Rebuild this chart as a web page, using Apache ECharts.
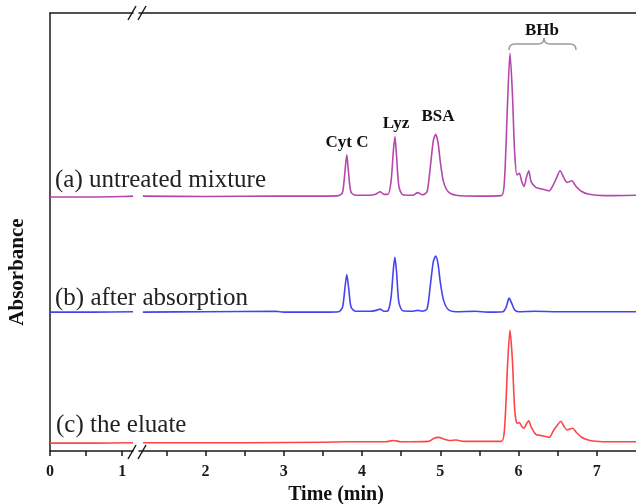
<!DOCTYPE html>
<html>
<head>
<meta charset="utf-8">
<script src="https://cdn.jsdelivr.net/npm/echarts@6.0.0/dist/echarts.min.js"></script>
<style>
  html, body { margin: 0; padding: 0; background: #fff; }
  #chart { width: 636px; height: 504px; }
</style>
</head>
<body>
<div id="chart"></div>
<script>
// time (min) before the axis break
var leftA = [[0, 58.0], [0.6, 58.0], [1.0, 58.1], [1.15, 58.2]];
var leftB = [[0, 31.7], [0.6, 31.7], [1.15, 31.8]];
var leftC = [[0, 1.8], [0.6, 1.8], [1.15, 1.9]];

// (a) untreated mixture
var traceA = [[1.2, 58.2], [2.0, 58.1], [2.9, 58.2], [3.5, 58.2], [3.70, 58.3], [3.75, 59.0], [3.78, 63.5],
  [3.805, 67.6], [3.83, 63.0], [3.86, 59.0], [3.92, 58.4], [4.1, 58.4], [4.18, 58.7], [4.23, 59.2],
  [4.28, 58.6], [4.33, 58.6], [4.37, 61.5], [4.40, 68.5], [4.42, 71.8], [4.44, 67.5], [4.47, 60.5],
  [4.52, 58.5], [4.65, 58.4], [4.71, 59.0], [4.77, 58.5], [4.83, 59.2], [4.87, 64.5], [4.91, 70.8],
  [4.94, 72.3], [4.97, 70.5], [5.00, 66.0], [5.04, 61.5], [5.10, 59.2], [5.20, 58.4], [5.5, 58.2],
  [5.78, 58.3], [5.82, 62.0], [5.86, 80.0], [5.89, 90.8], [5.92, 82.0], [5.95, 68.0], [5.98, 63.0],
  [6.01, 63.4], [6.04, 61.5], [6.07, 60.4], [6.10, 62.5], [6.13, 64.0], [6.16, 61.5], [6.22, 60.2],
  [6.30, 59.8], [6.39, 59.4], [6.45, 61.0], [6.49, 62.6], [6.53, 64.0], [6.58, 62.3], [6.62, 61.3],
  [6.68, 61.7], [6.73, 60.5], [6.80, 59.3], [6.90, 58.6], [7.1, 58.3], [7.5, 58.4]];

// (b) after absorption
var traceB = [[1.2, 31.7], [2.0, 31.8], [2.9, 31.9], [3.0, 31.7], [3.5, 31.7], [3.70, 31.8], [3.75, 32.8],
  [3.78, 37.0], [3.805, 40.3], [3.83, 37.0], [3.86, 32.8], [3.92, 31.9], [4.1, 31.9], [4.18, 32.1],
  [4.23, 32.4], [4.28, 31.9], [4.33, 32.0], [4.37, 35.0], [4.40, 41.5], [4.42, 44.2], [4.44, 41.0],
  [4.47, 34.0], [4.52, 32.0], [4.65, 31.9], [4.71, 32.1], [4.77, 31.9], [4.83, 32.4], [4.87, 37.5],
  [4.91, 43.2], [4.94, 44.5], [4.97, 42.8], [5.00, 38.5], [5.04, 34.5], [5.10, 32.3], [5.20, 31.8],
  [5.45, 31.9], [5.6, 31.7], [5.80, 31.8], [5.84, 32.8], [5.88, 34.9], [5.91, 33.8], [5.95, 32.2],
  [6.0, 31.8], [6.2, 31.9], [6.5, 31.8], [7.0, 31.8], [7.5, 31.8]];

// (c) the eluate
var traceC = [[1.2, 1.9], [2.5, 1.9], [3.5, 2.0], [3.8, 2.1], [4.3, 2.1], [4.4, 2.4], [4.5, 2.1],
  [4.85, 2.2], [4.92, 2.9], [4.98, 3.1], [5.05, 2.7], [5.12, 2.4], [5.2, 2.5], [5.3, 2.2], [5.78, 2.2],
  [5.82, 5.0], [5.86, 20.0], [5.89, 27.6], [5.92, 21.0], [5.95, 9.5], [5.98, 6.3], [6.01, 6.5],
  [6.04, 5.6], [6.07, 5.2], [6.10, 6.2], [6.13, 6.9], [6.16, 5.5], [6.22, 3.8], [6.30, 3.5],
  [6.39, 3.1], [6.45, 4.8], [6.50, 6.0], [6.54, 6.8], [6.58, 5.6], [6.62, 4.8], [6.69, 5.2],
  [6.74, 4.2], [6.80, 3.2], [6.86, 2.7], [6.95, 2.3], [7.2, 2.1], [7.5, 2.1]];

var leftTicks = [0, 0.5, 1];
var leftLabels = [0, 1];
var rightTicks = [1.5, 2, 2.5, 3, 3.5, 4, 4.5, 5, 5.5, 6, 6.5, 7];
var rightLabels = [2, 3, 4, 5, 6, 7];

var colors = ['#b447ae', '#4444f2', '#ff4545'];
var axisColor = '#1a1a1a';
var serif = '"Liberation Serif", "Times New Roman", serif';

var chart = echarts.init(document.getElementById('chart'));

function bottomAxis(idx, min, max, ticks, labels) {
  return {
    type: 'value', gridIndex: idx, position: 'bottom', min: min, max: max,
    axisLine: { show: true, lineStyle: { color: axisColor, width: 1.5 } },
    axisTick: { show: true, length: 5, customValues: ticks, lineStyle: { color: axisColor, width: 1.5 } },
    axisLabel: { customValues: labels, color: axisColor, fontFamily: serif, fontWeight: 'bold', fontSize: 16, margin: 13 },
    splitLine: { show: false }
  };
}
function topAxis(idx, min, max) {
  return {
    type: 'value', gridIndex: idx, position: 'top', min: min, max: max,
    axisLine: { show: true, lineStyle: { color: axisColor, width: 1.5 } },
    axisTick: { show: false }, axisLabel: { show: false }, splitLine: { show: false }
  };
}
function line(name, xi, data, color) {
  return {
    name: name, type: 'line', xAxisIndex: xi, yAxisIndex: xi < 2 ? 0 : 1,
    data: data, showSymbol: false, smooth: 0.25,
    lineStyle: { color: color, width: 1.6 }, silent: true
  };
}

var slash = { stroke: axisColor, lineWidth: 1.5 };
var brace = { fill: 'none', stroke: '#999', lineWidth: 1.5 };
var peakFont = 'bold 17px ' + serif;
var traceFont = '25px ' + serif;
var option = {
  animation: false,
  grid: [
    { left: 50, top: 13, width: 83, bottom: 53 },
    { left: 139, top: 13, width: 498, bottom: 53 }
  ],
  xAxis: [
    bottomAxis(0, 0, 1.15, leftTicks, leftLabels),
    topAxis(0, 0, 1.15),
    bottomAxis(1, 1.15, 7.5, rightTicks, rightLabels),
    topAxis(1, 1.15, 7.5)
  ],
  yAxis: [
    { type: 'value', gridIndex: 0, min: 0, max: 100,
      axisLine: { show: true, lineStyle: { color: axisColor, width: 1.5 } },
      axisTick: { show: false }, axisLabel: { show: false }, splitLine: { show: false } },
    { type: 'value', gridIndex: 1, min: 0, max: 100, show: false }
  ],
  series: [
    line('a-left', 0, leftA, colors[0]),
    line('b-left', 0, leftB, colors[1]),
    line('c-left', 0, leftC, colors[2]),
    line('a', 2, traceA, colors[0]),
    line('b', 2, traceB, colors[1]),
    line('c', 2, traceC, colors[2])
  ],
  graphic: [
    { type: 'line', shape: { x1: 128, y1: 459, x2: 136, y2: 445 }, style: slash },
    { type: 'line', shape: { x1: 138, y1: 459, x2: 146, y2: 445 }, style: slash },
    { type: 'line', shape: { x1: 128, y1: 20, x2: 136, y2: 6 }, style: slash },
    { type: 'line', shape: { x1: 138, y1: 20, x2: 146, y2: 6 }, style: slash },
    { type: 'bezierCurve', shape: { x1: 509, y1: 50, cpx1: 509, cpy1: 44, x2: 515, y2: 44 }, style: brace },
    { type: 'line', shape: { x1: 515, y1: 44, x2: 538, y2: 44 }, style: brace },
    { type: 'bezierCurve', shape: { x1: 538, y1: 44, cpx1: 544, cpy1: 44, x2: 544, y2: 38 }, style: brace },
    { type: 'bezierCurve', shape: { x1: 544, y1: 38, cpx1: 544, cpy1: 44, x2: 550, y2: 44 }, style: brace },
    { type: 'line', shape: { x1: 550, y1: 44, x2: 570, y2: 44 }, style: brace },
    { type: 'bezierCurve', shape: { x1: 570, y1: 44, cpx1: 576, cpy1: 44, x2: 576, y2: 50 }, style: brace },
    { type: 'text', x: 542, y: 31, style: { text: 'BHb', fill: '#111', font: peakFont, align: 'center', verticalAlign: 'middle' } },
    { type: 'text', x: 347, y: 143, style: { text: 'Cyt C', fill: '#111', font: peakFont, align: 'center', verticalAlign: 'middle' } },
    { type: 'text', x: 396, y: 124, style: { text: 'Lyz', fill: '#111', font: peakFont, align: 'center', verticalAlign: 'middle' } },
    { type: 'text', x: 438, y: 117, style: { text: 'BSA', fill: '#111', font: peakFont, align: 'center', verticalAlign: 'middle' } },
    { type: 'text', x: 55, y: 180, style: { text: '(a) untreated mixture', fill: '#222', font: traceFont, align: 'left', verticalAlign: 'middle' } },
    { type: 'text', x: 55, y: 298, style: { text: '(b) after absorption', fill: '#222', font: traceFont, align: 'left', verticalAlign: 'middle' } },
    { type: 'text', x: 56, y: 425, style: { text: '(c) the eluate', fill: '#222', font: traceFont, align: 'left', verticalAlign: 'middle' } },
    { type: 'text', x: 336, y: 495, style: { text: 'Time (min)', fill: '#111', font: 'bold 20px ' + serif, align: 'center', verticalAlign: 'middle' } },
    { type: 'text', x: 18, y: 272, rotation: Math.PI / 2, style: { text: 'Absorbance', fill: '#111', font: 'bold 21px ' + serif, align: 'center', verticalAlign: 'middle' } }
  ]
};
chart.setOption(option);
</script>
</body>
</html>
